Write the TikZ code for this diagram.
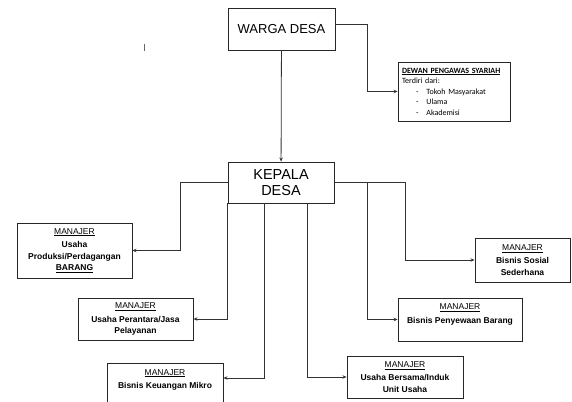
\documentclass[tikz,border=0pt]{standalone}
\usepackage{fontspec}
\setmainfont{Liberation Sans}
\newfontfamily\calibri{Carlito}
\usetikzlibrary{arrows.meta, positioning, calc}

\begin{document}
\begin{tikzpicture}[x=1pt, y=-1pt,
    box/.style={draw=black!85, line width=0.9pt, align=center, inner sep=2pt},
    big/.style={box, font=\fontsize{13}{16}\selectfont},
    mgr/.style={box, font=\fontsize{8.5}{11.5}\selectfont},
    arr/.style={-{Stealth[length=4pt, width=3.5pt]}, line width=0.8pt, draw=black!80},
    >=Stealth
]
\useasboundingbox (0,0) rectangle (572,401);

% Top level
\node[big, minimum width=107, minimum height=42] (warga) at (281.5,29) {WARGA DESA};
\node[big, font=\fontsize{14.5}{16}\selectfont, minimum width=106, minimum height=41] (kepala) at (281,182.5) {KEPALA\\DESA};
\node[box, align=left, text width=104, inner xsep=4pt, minimum height=59, font=\calibri\fontsize{8}{10.5}\selectfont] (dps) at (454,91.5)
    {\textbf{\underline{DEWAN PENGAWAS SYARIAH}}\\Terdiri dari:\\
     \hspace*{14pt}-\hspace{8pt}Tokoh Masyarakat\\
     \hspace*{14pt}-\hspace{8pt}Ulama\\
     \hspace*{14pt}-\hspace{8pt}Akademisi};

% Managers
\node[mgr, minimum width=115, minimum height=55] (produksi) at (74.5,250.5)
    {\underline{MANAJER}\\[2pt]\textbf{Usaha}\\\textbf{Produksi/Perdagangan}\\\textbf{\underline{BARANG}}};
\node[mgr, minimum width=95, minimum height=44] (sosial) at (522.5,260)
    {\underline{MANAJER}\\[2pt]\textbf{Bisnis Sosial}\\\textbf{Sederhana}};
\node[mgr, minimum width=115, minimum height=42] (perantara) at (135.5,319)
    {\underline{MANAJER}\\[2pt]\textbf{Usaha Perantara/Jasa}\\\textbf{Pelayanan}};
\node[mgr, minimum width=124, minimum height=43] (penyewaan) at (460,319.5)
    {\underline{MANAJER}\\[2pt]\textbf{Bisnis Penyewaan Barang}\rule[-12pt]{0pt}{0pt}};
\node[mgr, minimum width=116, minimum height=40] (keuangan) at (165,383)
    {\underline{MANAJER}\\[2pt]\textbf{Bisnis Keuangan Mikro}\rule[-8pt]{0pt}{0pt}};
\node[mgr, minimum width=116, minimum height=42] (bersama) at (405,377)
    {\underline{MANAJER}\\[2pt]\textbf{Usaha Bersama/Induk}\\\textbf{Unit Usaha}};

% Bends
\coordinate (wd) at (367,24);
\coordinate (kl) at (180,182.5);
\coordinate (kr) at (405,182.5);
\coordinate (kp) at (367,182.5);

% Arrows
\draw[arr] (warga.east |- wd) -- (wd) |- (dps.west);
\draw[arr] (warga) -- (kepala);
\draw[arr] (kepala.west) -- (kl) |- (produksi.east);
\draw[arr] (kepala.east) -- (kr) |- (sosial.west);
\draw[arr] (kp) |- (penyewaan.west);
\draw[arr] (kepala.south west) |- (perantara.east);
\draw[arr] ([xshift=-17pt]kepala.south) |- ([yshift=5pt]keuangan.east);
\draw[arr] ([xshift=26pt]kepala.south) |- (bersama.west);

% stray mark
\draw[black!60, line width=0.8pt] (144,44) -- (144,51);

\end{tikzpicture}
\end{document}
